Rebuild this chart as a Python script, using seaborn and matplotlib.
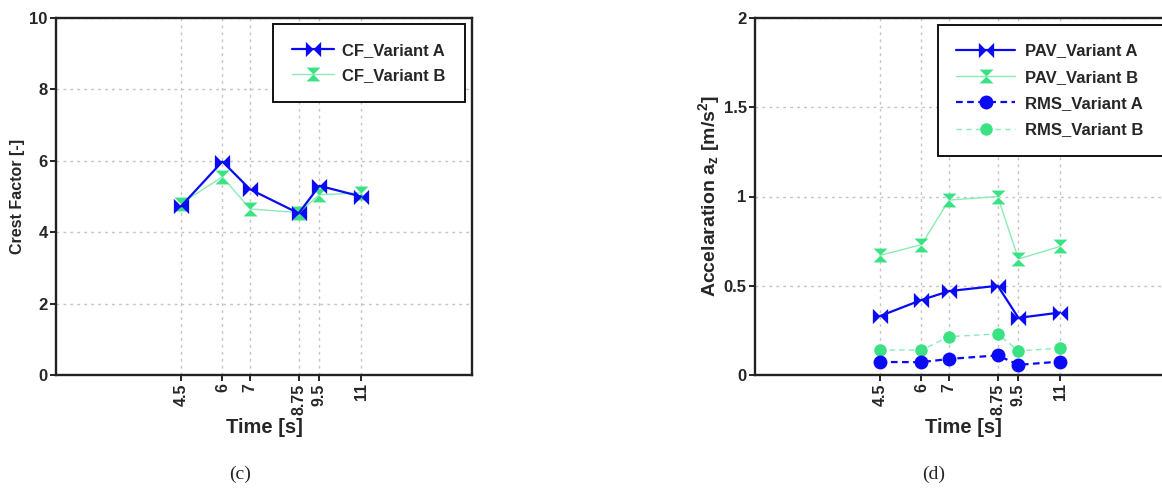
import matplotlib
matplotlib.use("Agg")
import matplotlib.pyplot as plt
from matplotlib.path import Path
import seaborn as sns

# Sampling instants and their tick labels
time_s = [4.5, 6, 7, 8.75, 9.5, 11]
time_labels = ["4.5", "6", "7", "8.75", "9.5", "11"]

# Crest factor per variant
cf_variant_a = [4.72, 5.98, 5.20, 4.53, 5.30, 5.00]
cf_variant_b = [4.80, 5.55, 4.65, 4.55, 5.05, 5.10]

# Peak acceleration value and RMS acceleration per variant [m/s^2]
pav_variant_a = [0.33, 0.42, 0.47, 0.50, 0.32, 0.35]
pav_variant_b = [0.67, 0.73, 0.98, 1.00, 0.65, 0.72]
rms_variant_a = [0.073, 0.072, 0.09, 0.11, 0.057, 0.075]
rms_variant_b = [0.14, 0.14, 0.215, 0.23, 0.135, 0.15]

BLUE = "#0a0af5"
GREEN = "#3be283"
GREEN_LINE = "#8aecb4"

sns.set_theme(style="white")
plt.rcParams["font.family"] = ["Liberation Sans", "DejaVu Sans"]
plt.rcParams["font.weight"] = "bold"
plt.rcParams["mathtext.default"] = "regular"

MOVE, LINE, CLOSE = Path.MOVETO, Path.LINETO, Path.CLOSEPOLY
# two triangles meeting at the centre, tips pointing inwards horizontally
bowtie = Path([(-1, -1), (-1, 1), (0, 0), (-1, -1),
               (1, -1), (1, 1), (0, 0), (1, -1)],
              [MOVE, LINE, LINE, CLOSE, MOVE, LINE, LINE, CLOSE])
# the same shape turned upright (hourglass)
hourglass = Path([(-1, 1), (1, 1), (0, 0), (-1, 1),
                  (-1, -1), (1, -1), (0, 0), (-1, -1)],
                 [MOVE, LINE, LINE, CLOSE, MOVE, LINE, LINE, CLOSE])

W, H = 1162, 488
fig = plt.figure(figsize=(W / 100, H / 100), dpi=100)
fig.patch.set_facecolor("white")


def fx(px):
    return px / W


def fy(py):
    return 1 - py / H


AX_W, AX_TOP, AX_BOT = 416, 18, 375
ax_c = fig.add_axes([fx(56), fy(AX_BOT), fx(AX_W), (AX_BOT - AX_TOP) / H])
ax_d = fig.add_axes([fx(755), fy(AX_BOT), fx(AX_W), (AX_BOT - AX_TOP) / H])


def style_axes(ax, ylim, yticks, yticklabels):
    ax.set_xlim(0, 15)
    ax.set_ylim(*ylim)
    ax.set_xticks(time_s)
    ax.set_xticklabels(time_labels, rotation=90, fontsize=11.5, fontweight="bold")
    ax.set_yticks(yticks)
    ax.set_yticklabels(yticklabels, fontsize=12, fontweight="bold")
    ax.tick_params(axis="both", direction="out", length=4, width=1.2,
                   color="black", pad=2, bottom=True, left=True)
    for sp in ax.spines.values():
        sp.set_visible(True)
        sp.set_color("#222222")
        sp.set_linewidth(1.7)
    ax.grid(True, color="#c4c4c4", linestyle=(0, (2, 3)), linewidth=1.0)
    ax.set_axisbelow(True)
    ax.set_facecolor("white")
    ax.set_xlabel("Time [s]", fontsize=14.5, fontweight="bold")
    ax.xaxis.set_label_coords(0.5, (AX_BOT - 418) / (AX_BOT - AX_TOP))


def green_series(ax, y, marker, size, label, ls="-"):
    sns.lineplot(x=time_s, y=y, ax=ax, color=GREEN_LINE, lw=1.0, linestyle=ls,
                 marker=marker, markersize=size, markeredgewidth=0,
                 label=label, zorder=3)
    ln = ax.lines[-1]
    ln.set_markerfacecolor(GREEN)
    ln.set_markeredgecolor(GREEN)


# (c) crest factor
green_series(ax_c, cf_variant_b, hourglass, 10, "CF_Variant B")
sns.lineplot(x=time_s, y=cf_variant_a, ax=ax_c, color=BLUE, lw=1.6,
             marker=bowtie, markersize=11, markeredgewidth=0,
             label="CF_Variant A", zorder=4)
style_axes(ax_c, (0, 10), [0, 2, 4, 6, 8, 10],
           ["0", "2", "4", "6", "8", "10"])
ax_c.set_ylabel("Crest Factor [-]", fontsize=11.5, fontweight="bold")
ax_c.yaxis.set_label_coords((25 - 56) / AX_W, 0.5)

h, l = ax_c.get_legend_handles_labels()
order = [l.index("CF_Variant A"), l.index("CF_Variant B")]
ax_c.legend([h[i] for i in order], [l[i] for i in order],
            loc="upper left", mode="expand",
            bbox_to_anchor=(fx(273), fy(24) - 76 / H, fx(465 - 273), 76 / H),
            bbox_transform=fig.transFigure, fancybox=False, framealpha=1,
            edgecolor="#111111", fontsize=12, handlelength=2.5,
            handletextpad=0.5, labelspacing=0.6, borderpad=1.15,
            borderaxespad=0)
ax_c.get_legend().get_frame().set_linewidth(1.4)

# (d) peak and RMS acceleration
green_series(ax_d, pav_variant_b, hourglass, 10, "PAV_Variant B")
green_series(ax_d, rms_variant_b, "o", 9, "RMS_Variant B", ls=(0, (4, 3)))
sns.lineplot(x=time_s, y=pav_variant_a, ax=ax_d, color=BLUE, lw=1.6,
             marker=bowtie, markersize=11, markeredgewidth=0,
             label="PAV_Variant A", zorder=5)
sns.lineplot(x=time_s, y=rms_variant_a, ax=ax_d, color=BLUE, lw=1.6,
             linestyle=(0, (3, 2)), marker="o", markersize=10,
             markeredgewidth=0, label="RMS_Variant A", zorder=5)
style_axes(ax_d, (0, 2), [0, 0.5, 1, 1.5, 2],
           ["0", "0.5", "1", "1.5", "2"])
ax_d.set_ylabel(r"Accelaration a$_{z}$ [m/s$^{2}$]", fontsize=14,
                fontweight="bold")
ax_d.yaxis.set_label_coords((722 - 755) / AX_W, 0.5)

h, l = ax_d.get_legend_handles_labels()
names = ["PAV_Variant A", "PAV_Variant B", "RMS_Variant A", "RMS_Variant B"]
idx = [l.index(n) for n in names]
ax_d.legend([h[i] for i in idx], names, loc="upper left", mode="expand",
            bbox_to_anchor=(fx(938), fy(25) - 125 / H, fx(1210 - 938), 125 / H),
            bbox_transform=fig.transFigure, fancybox=False, framealpha=1,
            edgecolor="#111111", fontsize=12, handlelength=3.5,
            handletextpad=0.6, labelspacing=0.68, borderpad=1.1,
            borderaxespad=0)
ax_d.get_legend().get_frame().set_linewidth(1.4)

# panel captions
fig.text(fx(240), fy(474), "(c)", ha="center", va="center", fontsize=14,
         family="Liberation Serif", fontweight="normal")
fig.text(fx(934), fy(474), "(d)", ha="center", va="center", fontsize=14,
         family="Liberation Serif", fontweight="normal")

fig.savefig("out.png", dpi=100, facecolor="white")
